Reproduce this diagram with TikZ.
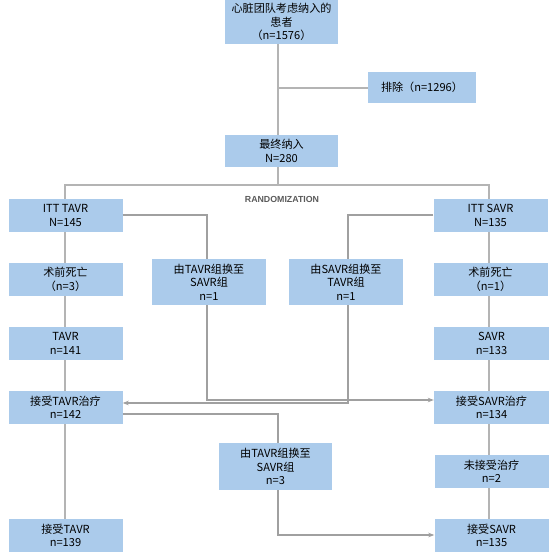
\documentclass[tikz,border=0pt]{standalone}
\usepackage{fontspec}
\setmainfont{Noto Sans CJK SC}
\newfontfamily\randfont{Liberation Sans}
\usetikzlibrary{arrows.meta}
\definecolor{boxblue}{HTML}{ABCBEB}
\definecolor{linegray}{HTML}{B4B4B4}
\definecolor{conngray}{HTML}{A0A0A0}
\definecolor{txtgray}{HTML}{5A5A5A}
\tikzset{
  box/.style={fill=boxblue, draw=none, align=center, inner sep=0pt,
    font=\fontsize{11.1}{13.5}\selectfont, text=black},
  mainline/.style={draw=linegray, line width=1.8pt},
  conn/.style={draw=conngray, line width=1.1pt},
  arr/.style={conn, -{Stealth[length=6pt,width=4.5pt]}}
}
\begin{document}
\begin{tikzpicture}[x=1pt,y=-1pt]
\useasboundingbox (0,0) rectangle (557,555);
% boxes
\node[box, minimum width=113pt, minimum height=44pt] (top) at (281.5,22) {心脏团队考虑纳入的\\患者\\（n=1576）};
\node[box, minimum width=108pt, minimum height=31pt] (excl) at (422,87.5) {排除（n=1296）};
\node[box, minimum width=113pt, minimum height=32pt] (final) at (281.5,151) {最终纳入\\N=280};
\node[font=\randfont\bfseries\fontsize{8.8}{10}\selectfont, text=txtgray] (rand) at (282,199) {RANDOMIZATION};
\node[box, minimum width=114pt, minimum height=33pt] (ittT) at (65.5,215.5) {ITT TAVR\\N=145};
\node[box, minimum width=114pt, minimum height=33pt] (ittS) at (490.5,215.5) {ITT SAVR\\N=135};
\node[box, minimum width=114pt, minimum height=33pt] (deathT) at (65.5,279.5) {术前死亡\\（n=3）};
\node[box, minimum width=114pt, minimum height=46pt] (swTS) at (209,282) {由TAVR组换至\\SAVR组\\n=1};
\node[box, minimum width=114pt, minimum height=46pt] (swST) at (346,282) {由SAVR组换至\\TAVR组\\n=1};
\node[box, minimum width=114pt, minimum height=33pt] (deathS) at (490.5,279.5) {术前死亡\\（n=1）};
\node[box, minimum width=114pt, minimum height=33pt] (tavr) at (65.5,343.5) {TAVR\\n=141};
\node[box, minimum width=115pt, minimum height=33pt] (savr) at (491.5,343.5) {SAVR\\n=133};
\node[box, minimum width=114pt, minimum height=33pt] (recT) at (65.5,407.5) {接受TAVR治疗\\n=142};
\node[box, minimum width=115pt, minimum height=33pt] (recS) at (491.5,407.5) {接受SAVR治疗\\n=134};
\node[box, minimum width=113pt, minimum height=47pt] (sw3) at (275.5,466.5) {由TAVR组换至\\SAVR组\\n=3};
\node[box, minimum width=114pt, minimum height=33pt] (noS) at (491.5,471.5) {未接受治疗\\n=2};
\node[box, minimum width=114pt, minimum height=33pt] (finT) at (65.5,535.5) {接受TAVR\\n=139};
\node[box, minimum width=114pt, minimum height=33pt] (finS) at (491.5,535.5) {接受SAVR\\n=135};
% coordinates
\coordinate (split) at (278,185);
\coordinate (exclJ) at (278,88);
% main trunk
\draw[mainline] (top.south -| split) -- (final.north -| split);
\draw[mainline] (exclJ) -- (excl.west |- exclJ);
\draw[mainline] (final.south -| split) -- (split);
\draw[mainline] (ittT.north -| 65,0) -- (65,185) -- (489,185) -- (ittS.north -| 489,0);
% left column
\draw[mainline] (ittT.south -| 65,0) -- (deathT.north -| 65,0);
\draw[mainline] (deathT.south -| 65,0) -- (tavr.north -| 65,0);
\draw[mainline] (tavr.south -| 65,0) -- (recT.north -| 65,0);
\draw[mainline] (recT.south -| 65,0) -- (finT.north -| 65,0);
% right column
\draw[mainline] (ittS.south -| 489,0) -- (deathS.north -| 489,0);
\draw[mainline] (deathS.south -| 489,0) -- (savr.north -| 489,0);
\draw[mainline] (savr.south -| 489,0) -- (recS.north -| 489,0);
\draw[mainline] (recS.south -| 489,0) -- (noS.north -| 489,0);
\draw[mainline] (noS.south -| 489,0) -- (finS.north -| 489,0);
% crossovers
\draw[conn] (ittT.east |- 0,215) -- (207,215) -- (swTS.north -| 207,0);
\draw[arr] (swTS.south -| 207,0) -- (207,400) -- (recS.west |- 0,400);
\draw[conn] (ittS.west |- 0,215) -- (348,215) -- (swST.north -| 348,0);
\draw[arr] (swST.south -| 348,0) -- (348,403) -- (recT.east |- 0,403);
\draw[conn] (recT.east |- 0,414) -- (278,414) -- (sw3.north -| 278,0);
\draw[arr] (sw3.south -| 278,0) -- (278,535) -- (finS.west |- 0,535);
\end{tikzpicture}
\end{document}
